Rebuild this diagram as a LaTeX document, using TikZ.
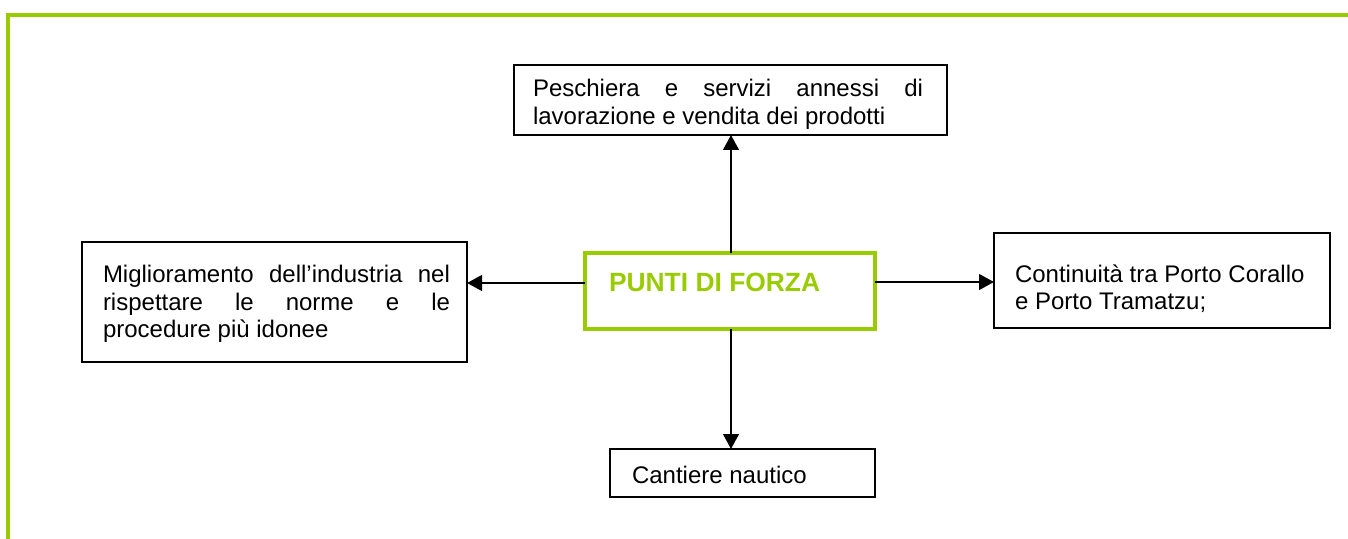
\documentclass[tikz,border=0pt]{standalone}
\usepackage{fontspec}
\setmainfont{Liberation Sans}
\usetikzlibrary{arrows.meta}
\definecolor{lime}{HTML}{99CC00}
\begin{document}
\begin{tikzpicture}[x=0.5pt,y=-0.5pt,
  box/.style={draw=black, line width=1pt, inner sep=0pt, outer sep=0pt},
  txt/.style={anchor=base west, inner sep=0pt, outer sep=0pt, font=\fontsize{12pt}{14pt}\selectfont},
  arr/.style={draw=black, line width=1.25pt, -{Triangle[length=7.5pt,width=7.8pt]}},
  frame/.style={draw=lime, line width=2pt}
]
\useasboundingbox (0,0) rectangle (1348,539);
\draw[frame] (1348,14.8) -- (8,14.8) -- (8,539);

% boxes
\node[box, minimum width=216.5pt, minimum height=35pt] (top) at (730.5,100) {};
\node[box, draw=lime, line width=2pt, minimum width=145pt, minimum height=38pt] (c) at (730,291) {};
\node[box, minimum width=192.5pt, minimum height=60pt] (l) at (274.5,302) {};
\node[box, minimum width=168pt, minimum height=47.5pt] (r) at (1162,280.5) {};
\node[box, minimum width=132.5pt, minimum height=24pt] (b) at (742.5,473) {};

% texts
\node[txt] (top1) at (533,97) {\makebox[195pt][s]{Peschiera e servizi annessi di}};
\node[txt] (top2) at (533,125) {lavorazione e vendita dei prodotti};
\node[txt, font=\fontsize{13.2pt}{15pt}\selectfont\bfseries, text=lime] (ctext) at (609,292) {PUNTI DI FORZA};
\node[txt] (l1) at (103,283) {\makebox[173.5pt][s]{Miglioramento dell’industria nel}};
\node[txt] (l2) at (103,310.5) {\makebox[173.5pt][s]{rispettare le norme e le}};
\node[txt] (l3) at (103,338) {procedure più idonee};
\node[txt] (r1) at (1015,283) {Continuità tra Porto Corallo};
\node[txt] (r2) at (1015,310) {e Porto Tramatzu;};
\node[txt] (b1) at (632,483) {Cantiere nautico};

% connectors
\draw[arr] ([xshift=0.5pt]c.north) -- ([xshift=0.5pt]c.north |- top.south);
\draw[arr] ([xshift=0.5pt]c.south) -- ([xshift=0.5pt]c.south |- b.north);
\draw[arr] ([yshift=4pt]c.west) -- ([yshift=4pt]c.west -| l.east);
\draw[arr] ([yshift=4.5pt]c.east) -- ([yshift=4.5pt]c.east -| r.west);
\end{tikzpicture}
\end{document}
